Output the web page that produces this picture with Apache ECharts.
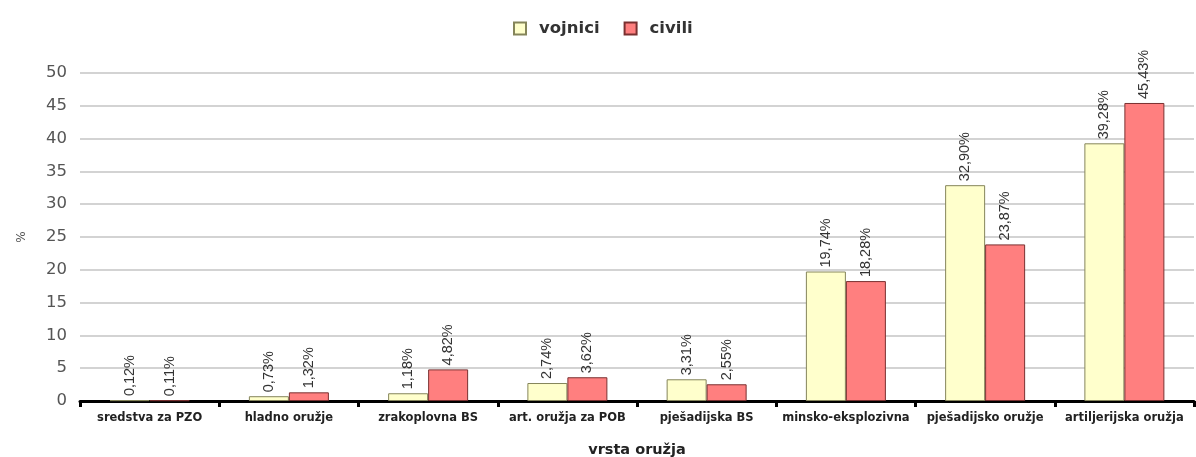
<!DOCTYPE html>
<html>
<head>
<meta charset="utf-8">
<title>vrsta oružja</title>
<script src="https://cdn.jsdelivr.net/npm/echarts@6/dist/echarts.min.js"></script>
<style>
  html, body { margin: 0; padding: 0; background: #fff; }
  #main { width: 1196px; height: 457px; }
</style>
</head>
<body>
<div id="main"></div>
<script>
// kategorije
var categories = ['sredstva za PZO', 'hladno oružje', 'zrakoplovna BS', 'art. oružja za POB',
  'pješadijska BS', 'minsko-eksplozivna', 'pješadijsko oružje', 'artiljerijska oružja'];
// postotci po seriji
var vojnici = [0.12, 0.73, 1.18, 2.74, 3.31, 19.74, 32.90, 39.28];
var civili = [0.11, 1.32, 4.82, 3.62, 2.55, 18.28, 23.87, 45.43];
var yTicks = { min: 0, max: 50, interval: 5 };

var myChart = echarts.init(document.getElementById('main'));

function pct(p) {
  return p.value.toFixed(2).replace('.', ',') + '%';
}

var barLabel = {
  show: true,
  position: 'top',
  rotate: 90,
  align: 'left',
  verticalAlign: 'middle',
  distance: 4,
  fontFamily: 'Liberation Sans',
  fontSize: 14.5,
  color: '#333',
  formatter: pct
};

var option = {
  animation: false,
  backgroundColor: '#fff',
  legend: {
    top: 15,
    left: 508,
    icon: 'rect',
    itemWidth: 12,
    itemHeight: 12,
    itemGap: 24,
    textStyle: { fontFamily: 'DejaVu Sans', fontWeight: 'bold', fontSize: 16.5, color: '#333', padding: [0, 0, 0, 8] },
    data: ['vojnici', 'civili']
  },
  grid: { left: 80, right: 2, top: 73, bottom: 56, outerBoundsMode: 'none', containLabel: false },
  xAxis: {
    type: 'category',
    data: categories,
    name: 'vrsta oružja',
    nameLocation: 'middle',
    nameGap: 42,
    nameTextStyle: { fontFamily: 'DejaVu Sans', fontWeight: 'bold', fontSize: 14.5, color: '#222' },
    axisLine: { lineStyle: { color: '#000', width: 3 } },
    axisTick: { show: true, length: 6, lineStyle: { color: '#000', width: 3 } },
    axisLabel: { interval: 0, fontFamily: 'DejaVu Sans', fontWeight: 'bold', fontSize: 11.5, color: '#222', margin: 11 }
  },
  yAxis: {
    type: 'value',
    min: yTicks.min,
    max: yTicks.max,
    interval: yTicks.interval,
    name: '%',
    nameLocation: 'middle',
    nameGap: 52,
    nameRotate: 90,
    nameTextStyle: { fontFamily: 'DejaVu Sans', fontSize: 12, color: '#555' },
    axisLine: { show: false },
    axisTick: { show: false },
    axisLabel: { fontFamily: 'DejaVu Sans', fontSize: 16.5, color: '#555', margin: 13 },
    splitLine: { lineStyle: { color: '#c4c4c4', width: 1.5 } }
  },
  series: [
    {
      name: 'vojnici',
      type: 'bar',
      data: vojnici,
      barWidth: 40,
      barGap: '0%',
      itemStyle: { color: '#FFFFCC', borderColor: '#85855a', borderWidth: 1 },
      label: barLabel
    },
    {
      name: 'civili',
      type: 'bar',
      data: civili,
      barWidth: 40,
      itemStyle: { color: '#FF7F7F', borderColor: '#7a3030', borderWidth: 1 },
      label: barLabel
    }
  ]
};

myChart.setOption(option);
</script>
</body>
</html>
